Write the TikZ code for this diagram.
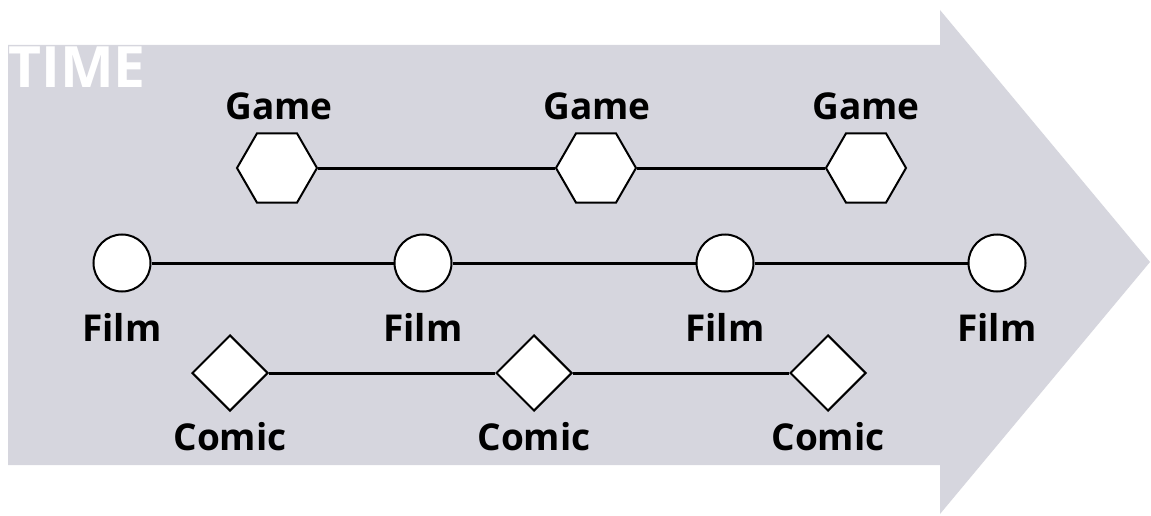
\documentclass[tikz,border=0pt]{standalone}
\usepackage{fontspec}
\setmainfont{Open Sans}
\usetikzlibrary{shapes.geometric}
\definecolor{arrowgray}{RGB}{214,214,222}
\tikzset{
  hexnode/.style={regular polygon, regular polygon sides=6, minimum size=80pt, inner sep=0pt, draw=black, line width=2pt, fill=white},
  filmnode/.style={circle, minimum size=57pt, inner sep=0pt, draw=black, line width=2pt, fill=white},
  comicnode/.style={diamond, minimum width=76pt, minimum height=76pt, inner sep=0pt, draw=black, line width=2pt, fill=white},
  lbl/.style={font=\fontsize{37}{37}\selectfont\bfseries, inner sep=0pt, text=black},
  link/.style={line width=3pt, draw=black}
}
\begin{document}
\begin{tikzpicture}[x=1pt,y=-1pt]
\useasboundingbox (0,0) rectangle (1151,516);
% big time arrow
\fill[arrowgray] (8,45) -- (940,45) -- (940,10) -- (1150,262) -- (940,514) -- (940,465) -- (8,465) -- cycle;
\node[anchor=base west, inner sep=0pt, text=white, font=\fontsize{57}{57}\selectfont\bfseries] (time) at (8,88) {TIME};
% shapes
\node[hexnode] (g1) at (277,168) {};
\node[hexnode] (g2) at (596,168) {};
\node[hexnode] (g3) at (866,168) {};
\node[filmnode] (f1) at (122,263) {};
\node[filmnode] (f2) at (423,263) {};
\node[filmnode] (f3) at (725,263) {};
\node[filmnode] (f4) at (997,263) {};
\node[comicnode] (c1) at (230,373) {};
\node[comicnode] (c2) at (534,373) {};
\node[comicnode] (c3) at (828,373) {};
% links
\draw[link] (g1) -- (g2);
\draw[link] (g2) -- (g3);
\draw[link] (f1) -- (f2);
\draw[link] (f2) -- (f3);
\draw[link] (f3) -- (f4);
\draw[link] (c1) -- (c2);
\draw[link] (c2) -- (c3);
% labels
\node[lbl, anchor=base] (lg1) at (279,120) {Game};
\node[lbl, anchor=base] (lg2) at (597,120) {Game};
\node[lbl, anchor=base] (lg3) at (866,120) {Game};
\node[lbl, anchor=base] (lf1) at (122,341) {Film};
\node[lbl, anchor=base] (lf2) at (423,341) {Film};
\node[lbl, anchor=base] (lf3) at (725,341) {Film};
\node[lbl, anchor=base] (lf4) at (997,341) {Film};
\node[lbl, anchor=base] (lc1) at (230,450) {Comic};
\node[lbl, anchor=base] (lc2) at (534,450) {Comic};
\node[lbl, anchor=base] (lc3) at (828,450) {Comic};
\end{tikzpicture}
\end{document}
